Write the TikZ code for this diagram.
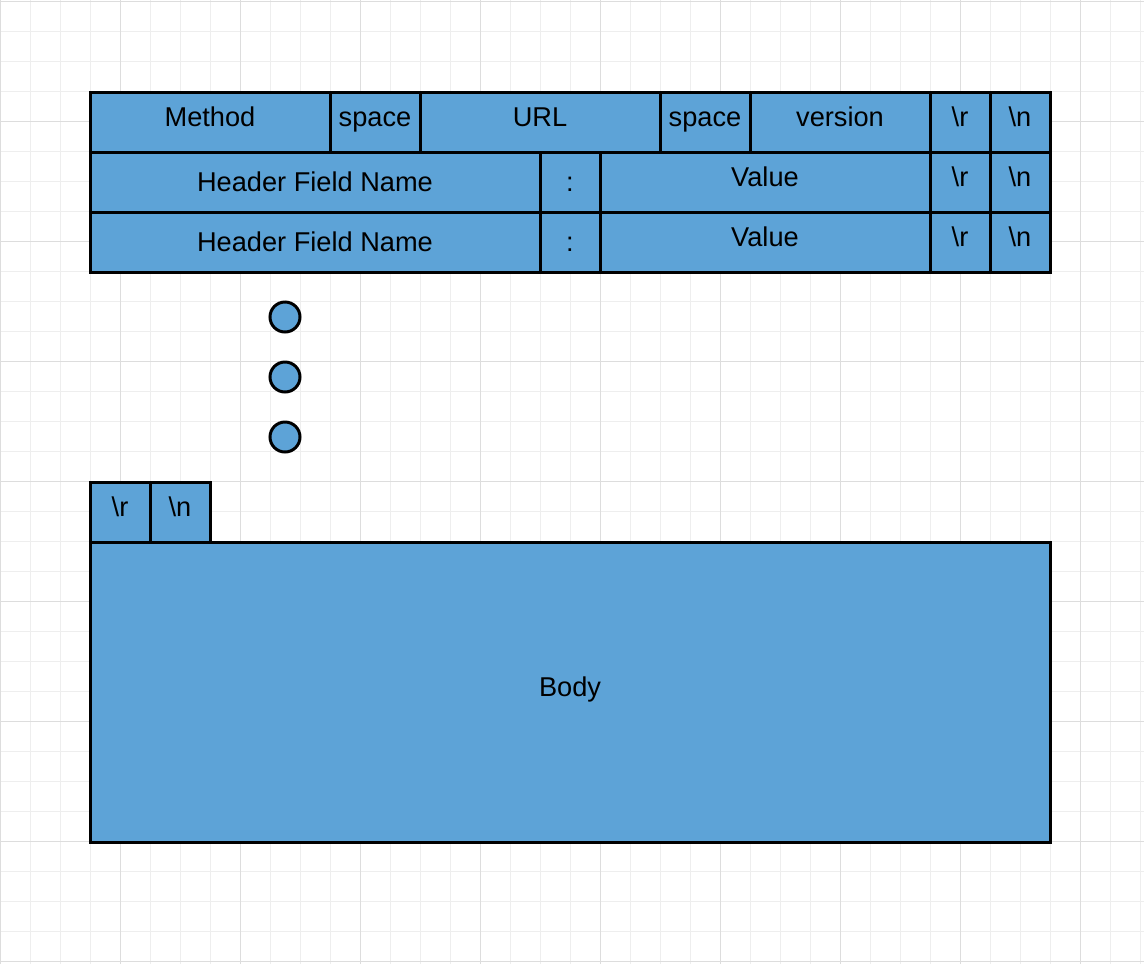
\documentclass[tikz,border=0pt]{standalone}
\usepackage{fontspec}
\setmainfont{Liberation Sans}
\definecolor{cellblue}{HTML}{5DA3D7}
\definecolor{gridminor}{HTML}{EEEEEE}
\definecolor{gridmajor}{HTML}{DDDDDD}
\usetikzlibrary{positioning}
\tikzset{
  cell/.style={draw=black,fill=cellblue,line width=1.5pt,outer sep=0pt,
               inner sep=0pt,minimum height=30pt,minimum width=#1,
               font=\fontsize{13.6pt}{16pt}\selectfont,
               text height=9.7pt,text depth=0pt},
  raised/.style={text depth=5pt},
  dot/.style={circle,draw=black,fill=cellblue,line width=1.5pt,
              inner sep=0pt,outer sep=0pt,minimum size=15pt},
  gridline/.style={gridminor,line width=0.5pt},
  gridbold/.style={gridmajor,line width=0.5pt}
}

\begin{document}
\begin{tikzpicture}[x=0.5pt,y=-0.5pt,node distance=0pt]
  \useasboundingbox (0,0) rectangle (1144,964);
  \fill[white] (0,0) rectangle (1144,964);
  % background grid
  \foreach \gx in {0,30,...,1140} \draw[gridline] (\gx,0) -- (\gx,964);
  \foreach \gy in {1,31,...,961} \draw[gridline] (0,\gy) -- (1144,\gy);
  \foreach \gx in {0,120,...,1140} \draw[gridbold] (\gx,0) -- (\gx,964);
  \foreach \gy in {1,121,...,961} \draw[gridbold] (0,\gy) -- (1144,\gy);

  % request line
  \node[cell=120pt,raised,anchor=north west] (method) at (90,92) {Method};
  \node[cell=45pt,raised,right=of method] (sp1) {space};
  \node[cell=120pt,raised,right=of sp1] (url) {URL};
  \node[cell=45pt,raised,right=of url] (sp2) {space};
  \node[cell=90pt,raised,right=of sp2] (version) {version};
  \node[cell=30pt,raised,right=of version] (cr1) {\textbackslash r};
  \node[cell=30pt,raised,right=of cr1] (lf1) {\textbackslash n};

  % header lines
  \node[cell=225pt,below=of method.south west,anchor=north west] (name1) {Header Field Name};
  \node[cell=30pt,right=of name1] (colon1) {:};
  \node[cell=165pt,raised,right=of colon1] (value1) {Value};
  \node[cell=30pt,raised,right=of value1] (cr2) {\textbackslash r};
  \node[cell=30pt,raised,right=of cr2] (lf2) {\textbackslash n};

  \node[cell=225pt,below=of name1.south west,anchor=north west] (name2) {Header Field Name};
  \node[cell=30pt,right=of name2] (colon2) {:};
  \node[cell=165pt,raised,right=of colon2] (value2) {Value};
  \node[cell=30pt,raised,right=of value2] (cr3) {\textbackslash r};
  \node[cell=30pt,raised,right=of cr3] (lf3) {\textbackslash n};

  % more headers
  \node[dot] (more1) at (285,317) {};
  \node[dot,below=15pt of more1] (more2) {};
  \node[dot,below=15pt of more2] (more3) {};

  % empty line and body
  \node[cell=30pt,raised,anchor=north west] (cr4) at (90,482) {\textbackslash r};
  \node[cell=30pt,raised,right=of cr4] (lf4) {\textbackslash n};
  \node[cell=480pt,raised,minimum height=150pt,below=of cr4.south west,anchor=north west] (body) {Body};
\end{tikzpicture}
\end{document}
